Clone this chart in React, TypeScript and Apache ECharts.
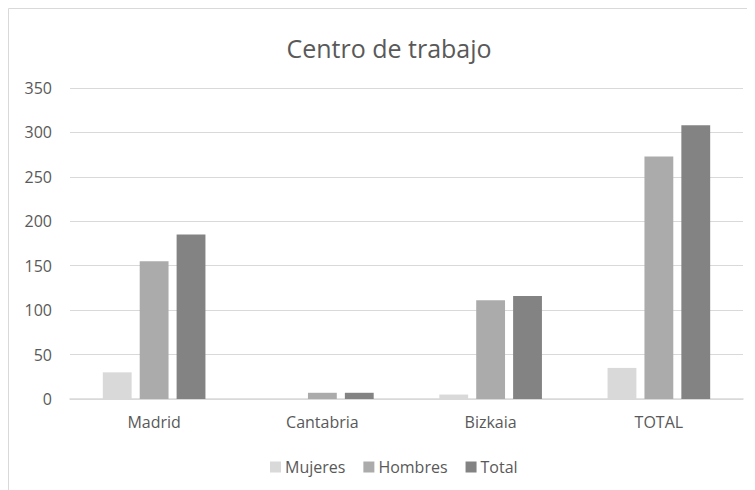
import React, { useEffect, useRef } from "react";
import * as echarts from "echarts";

const categories = ["Madrid", "Cantabria", "Bizkaia", "TOTAL"];
const mujeres = [30, 0, 5, 35];
const hombres = [155, 7, 111, 273];
const total = [185, 7, 116, 308];
const seriesNames = ["Mujeres", "Hombres", "Total"];
const colors = ["#d9d9d9", "#ababab", "#838383"];

const FONT = "'Open Sans', sans-serif";

export default function App() {
  const ref = useRef<HTMLDivElement>(null);
  useEffect(() => {
    if (!ref.current) return;
    const chart = echarts.init(ref.current, undefined, { renderer: "svg" });
    const data = [mujeres, hombres, total];
    chart.setOption({
      animation: false,
      textStyle: { fontFamily: FONT },
      graphic: [
        {
          type: "rect",
          shape: { x: 0.5, y: 0.5, width: 800, height: 600 },
          style: { fill: "none", stroke: "#d9d9d9", lineWidth: 1 },
          silent: true,
        },
      ],
      title: {
        text: "Centro de trabajo",
        left: 376,
        top: 22,
        textAlign: "center",
        textStyle: { fontFamily: FONT, fontSize: 25, fontWeight: "normal", color: "#595959" },
      },
      legend: {
        data: seriesNames,
        left: 257,
        top: 446,
        itemWidth: 11,
        itemHeight: 11,
        itemGap: 18,
        icon: "rect",
        textStyle: { fontFamily: FONT, fontSize: 16, color: "#595959", padding: [0, 0, 0, -1] },
      },
      grid: { left: 62, top: 80, width: 673, height: 311, containLabel: false },
      xAxis: {
        type: "category",
        data: categories,
        axisLine: { lineStyle: { color: "#d9d9d9", width: 1.5 } },
        axisTick: { show: false },
        axisLabel: { color: "#595959", fontSize: 16, margin: 15, fontFamily: FONT },
      },
      yAxis: {
        type: "value",
        min: 0,
        max: 350,
        interval: 50,
        axisLine: { show: false },
        axisTick: { show: false },
        splitLine: { lineStyle: { color: "#d9d9d9", width: 1 } },
        axisLabel: { color: "#595959", fontSize: 16, margin: 18, fontFamily: FONT },
      },
      series: seriesNames.map((name, i) => ({
        name,
        type: "bar",
        data: data[i],
        barGap: "28%",
        barCategoryGap: "39%",
        itemStyle: { color: colors[i] },
      })),
    });
    return () => chart.dispose();
  }, []);
  return <div ref={ref} style={{ width: 747, height: 482 }} />;
}
